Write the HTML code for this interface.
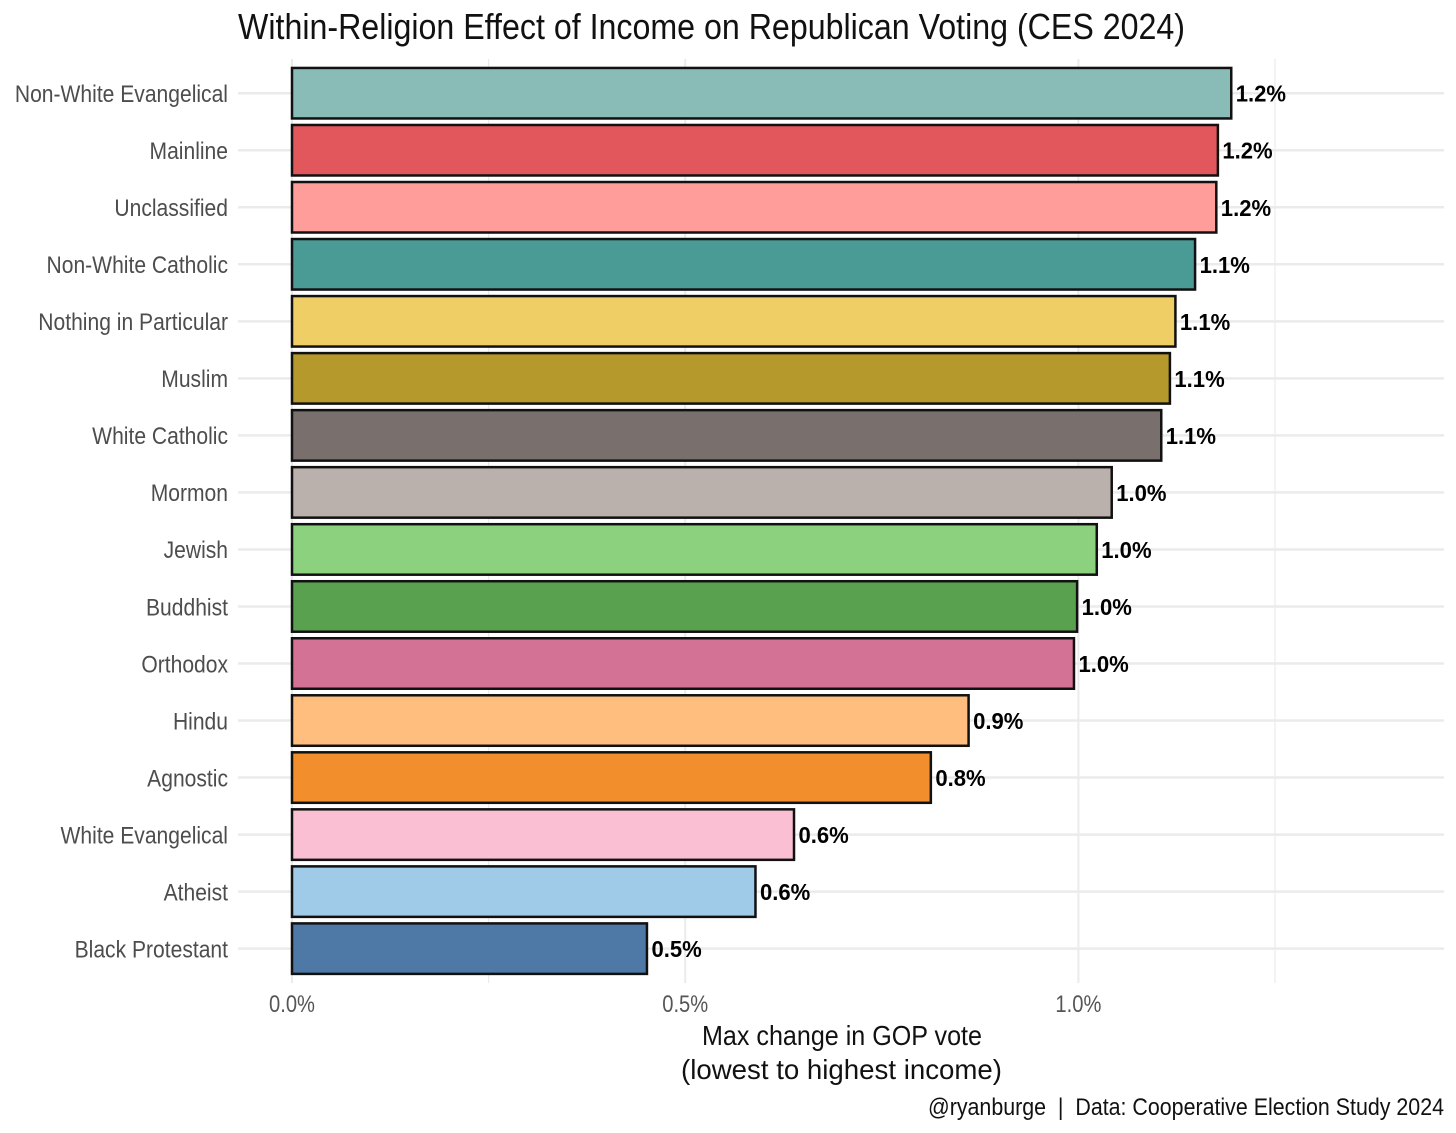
<!DOCTYPE html>
<html lang="en">
<head>
<meta charset="utf-8">
<title>Within-Religion Effect of Income on Republican Voting (CES 2024)</title>
<style>
  html, body { margin: 0; padding: 0; background: #fff; }
  svg { display: block; font-family: "Liberation Sans", sans-serif; }
</style>
</head>
<body>
<svg id="chart" xmlns="http://www.w3.org/2000/svg" width="1456" height="1133" viewBox="0 0 1456 1133">
  <rect width="1456" height="1133" fill="#ffffff"/>
  <g id="grid"></g>
  <g id="bars"></g>
  <g id="ylabels"></g>
  <g id="values"></g>
  <g id="xlabels"></g>
  <text x="238" y="39" font-size="36" fill="#111" textLength="947" lengthAdjust="spacingAndGlyphs">Within-Religion Effect of Income on Republican Voting (CES 2024)</text>
  <text x="702" y="1045" font-size="28" fill="#111" textLength="280" lengthAdjust="spacingAndGlyphs">Max change in GOP vote</text>
  <text x="681" y="1079" font-size="28" fill="#111" textLength="321" lengthAdjust="spacingAndGlyphs">(lowest to highest income)</text>
  <text x="928" y="1115" font-size="24" fill="#111" textLength="516" lengthAdjust="spacingAndGlyphs">@ryanburge&#160;&#160;|&#160;&#160;Data: Cooperative Election Study 2024</text>
</svg>
<script>
const categories = ["Non-White Evangelical", "Mainline", "Unclassified", "Non-White Catholic", "Nothing in Particular", "Muslim", "White Catholic", "Mormon", "Jewish", "Buddhist", "Orthodox", "Hindu", "Agnostic", "White Evangelical", "Atheist", "Black Protestant"];
const seriesValues = [1.195, 1.178, 1.176, 1.149, 1.124, 1.117, 1.106, 1.043, 1.024, 0.999, 0.995, 0.861, 0.813, 0.639, 0.590, 0.452];
const palette = ["#89BCB6", "#E2575B", "#FF9D9A", "#4A9A95", "#F0CE66", "#B5992D", "#79706E", "#BAB0AC", "#8CD17D", "#59A14F", "#D37295", "#FFBE7D", "#F28E2B", "#FABFD2", "#A0CBE8", "#4E79A7"];
const majorTicks = [0, 0.5, 1];
const minorTicks = [0.25, 1.25];
const tickLabels = ["0.0%", "0.5%", "1.0%"];

const NS = "http://www.w3.org/2000/svg";
const xZero = 292, xPerUnit = 786.4;
const yFirst = 93.2, yStep = 57.03, barHeight = 50.5;
const xScale = v => xZero + v * xPerUnit;
const yScale = i => yFirst + i * yStep;

function make(tag, parent, attrs) {
  const el = document.createElementNS(NS, tag);
  for (const k in attrs) el.setAttribute(k, attrs[k]);
  parent.appendChild(el);
  return el;
}

const grid = document.getElementById("grid");
const bars = document.getElementById("bars");
const ylabels = document.getElementById("ylabels");
const values = document.getElementById("values");
const xlabels = document.getElementById("xlabels");

majorTicks.forEach((t, i) => {
  const line = make("line", grid, {x1: xScale(t), x2: xScale(t), y1: 59, y2: 983, stroke: "#ebebeb", "stroke-width": 2});
  
  
  const label = make("text", xlabels, {transform: `translate(${xScale(t)},1012) scale(0.84,1)`, "text-anchor": "middle", "font-size": 24, fill: "#555"});
  label.textContent = tickLabels[i];
  
  
});

minorTicks.forEach(t => {
  const line = make("line", grid, {x1: xScale(t), x2: xScale(t), y1: 59, y2: 983, stroke: "#ebebeb", "stroke-width": 1.2});
  
  
});

categories.forEach((name, i) => {
  const y = yScale(i);
  const v = seriesValues[i];

  const gridline = make("line", grid, {x1: 238, x2: 1444, y1: y, y2: y, stroke: "#ebebeb", "stroke-width": 2.5});
  
  

  const bar = make("rect", bars, {x: xScale(0), y: y - barHeight / 2, width: xScale(v) - xScale(0) - 0.5, height: barHeight, fill: palette[i], stroke: "#111", "stroke-width": 2.5});
  
  

  const label = make("text", ylabels, {transform: `translate(228,${y + 8.8}) scale(0.878,1)`, "text-anchor": "end", "font-size": 24, fill: "#4d4d4d"});
  label.textContent = name;
  
  

  const valueLabel = make("text", values, {transform: `translate(${xScale(v) + 4},${y + 8.5}) scale(0.96,1)`, "font-size": 23, "font-weight": 700, fill: "#000"});
  valueLabel.textContent = v.toFixed(1) + "%";
  
  
});
</script>
</body>
</html>
